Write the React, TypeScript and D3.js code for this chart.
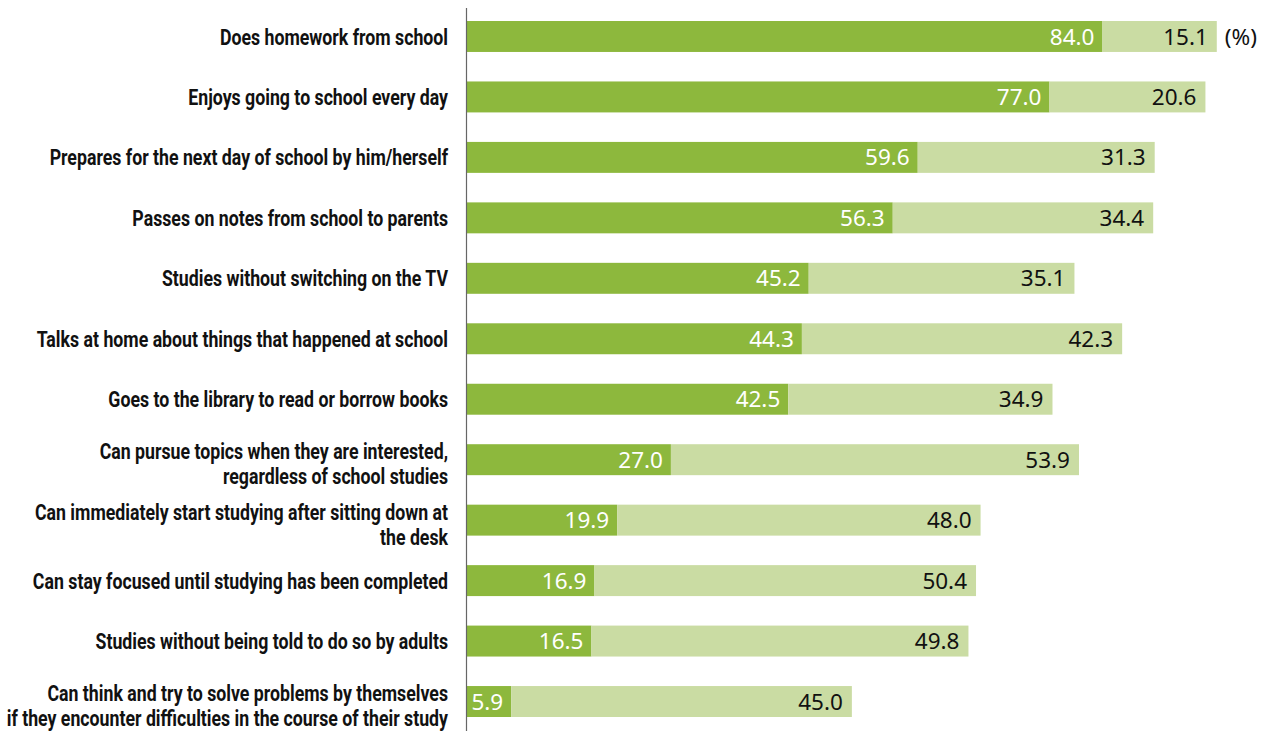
import React, { useLayoutEffect, useRef, useState } from "react";
import * as d3 from "d3";

const categories: string[][] = [
  ["Does homework from school"],
  ["Enjoys going to school every day"],
  ["Prepares for the next day of school by him/herself"],
  ["Passes on notes from school to parents"],
  ["Studies without switching on the TV"],
  ["Talks at home about things that happened at school"],
  ["Goes to the library to read or borrow books"],
  ["Can pursue topics when they are interested,", "regardless of school studies"],
  ["Can immediately start studying after sitting down at", "the desk"],
  ["Can stay focused until studying has been completed"],
  ["Studies without being told to do so by adults"],
  ["Can think and try to solve problems by themselves", "if they encounter difficulties in the course of their study"],
];
const applies: number[] = [84.0, 77.0, 59.6, 56.3, 45.2, 44.3, 42.5, 27.0, 19.9, 16.9, 16.5, 5.9];
const somewhatApplies: number[] = [15.1, 20.6, 31.3, 34.4, 35.1, 42.3, 34.9, 53.9, 48.0, 50.4, 49.8, 45.0];
const unitLabel = "(%)";

const W = 1264;
const H = 731;
const DARK = "#8db83d";
const LIGHT = "#cadca3";
const LABEL_FONT = "Roboto, 'Liberation Sans', sans-serif";
const VALUE_FONT = "'Noto Sans', 'Open Sans', sans-serif";
const LABEL_RIGHT = 448;
const LABEL_MAX_WIDTH = 441;
const REF_FIRST_LABEL_WIDTH = 237;

export default function App() {
  const gRef = useRef<SVGGElement>(null);
  const [sx, setSx] = useState(0.8);
  useLayoutEffect(() => {
    const g = gRef.current;
    if (!g) return;
    const texts = Array.from(g.querySelectorAll("text.lbl")) as SVGTextElement[];
    const widths = texts.map((t) => t.getComputedTextLength());
    const maxW = d3.max(widths) || 1;
    const firstW = widths[0] || 1;
    const s = Math.min(LABEL_MAX_WIDTH / maxW, REF_FIRST_LABEL_WIDTH / firstW);
    setSx(s);
  }, []);

  const x = d3.scaleLinear().domain([0, 100]).range([466.5, 1223.6]);
  const y = d3
    .scaleBand<number>()
    .domain(d3.range(categories.length))
    .range([6.5, 731.5])
    .paddingInner(29.5 / 60.45)
    .paddingOuter(14.5 / 60.45);

  const bw = y.bandwidth();
  return (
    <svg
      width={W}
      height={H}
      style={{ position: "absolute", left: 0, top: 0, background: "#fff" }}
    >
      <g ref={gRef}>
        {categories.map((lines, i) => {
          const y0 = y(i)!;
          const cy = y0 + bw / 2;
          const a = applies[i];
          const b = somewhatApplies[i];
          return (
            <g key={i}>
              <rect x={x(0)} y={y0} width={x(a) - x(0)} height={bw} fill={DARK} />
              <rect x={x(a)} y={y0} width={x(a + b) - x(a)} height={bw} fill={LIGHT} />
              <text
                x={x(a) - 8}
                y={cy}
                dy="0.36em"
                textAnchor="end"
                fill="#fff"
                fontFamily={VALUE_FONT}
                fontSize={22.5}
              >
                {a.toFixed(1)}
              </text>
              <text
                x={x(a + b) - 9}
                y={cy}
                dy="0.36em"
                textAnchor="end"
                fill="#111"
                fontFamily={VALUE_FONT}
                fontSize={22.5}
              >
                {b.toFixed(1)}
              </text>
              {i === 0 && (
                <text
                  x={x(a + b) + 8}
                  y={cy}
                  dy="0.36em"
                  textAnchor="start"
                  fill="#111"
                  fontFamily={VALUE_FONT}
                  fontSize={22.5}
                >
                  {unitLabel}
                </text>
              )}
              <g transform={`translate(${LABEL_RIGHT},0) scale(${sx},1)`}>
                {lines.map((ln, j) => (
                  <text
                    key={j}
                    className="lbl"
                    x={0}
                    y={lines.length === 1 ? cy : cy - 8.5 + j * 25}
                    dy="0.36em"
                    textAnchor="end"
                    fill="#111"
                    fontFamily={LABEL_FONT}
                    fontWeight="bold"
                    fontSize={22.5}
                  >
                    {ln}
                  </text>
                ))}
              </g>
            </g>
          );
        })}
      </g>
      <line x1={466.5} x2={466.5} y1={8} y2={H} stroke="#666" strokeWidth={1.2} />
    </svg>
  );
}
